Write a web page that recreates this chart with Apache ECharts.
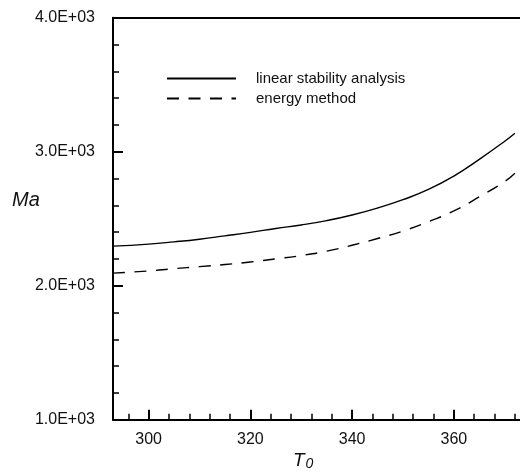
<!DOCTYPE html>
<html>
<head>
<meta charset="utf-8">
<script src="https://cdn.jsdelivr.net/npm/echarts@6/dist/echarts.min.js"></script>
<style>
html,body{margin:0;padding:0;background:#fff;}
#chart{width:520px;height:474px;}
</style>
</head>
<body>
<div id="chart"></div>
<script>
// Data
const seriesNames = ['linear stability analysis', 'energy method'];
const temperature = [293, 300, 305, 310, 315, 320, 325, 330, 335, 340, 345, 350, 355, 360, 365, 370, 372];
const maLinear = [2295, 2310, 2327, 2347, 2372, 2398, 2427, 2453, 2486, 2528, 2580, 2642, 2718, 2818, 2943, 3078, 3138];
const maEnergy = [2094, 2110, 2127, 2142, 2158, 2177, 2200, 2225, 2258, 2302, 2352, 2408, 2478, 2558, 2663, 2778, 2840];
const xMajorTicks = [300, 320, 340, 360];
const xMinorTicks = [296, 304, 308, 312, 316, 324, 328, 332, 336, 344, 348, 352, 356, 364, 368, 372];
const yTickValues = [1000, 2000, 3000, 4000];
const yTickLabels = ['1.0E+03', '2.0E+03', '3.0E+03', '4.0E+03'];

const FONT = "'Liberation Sans', Arial, Helvetica, sans-serif";
const chart = echarts.init(document.getElementById('chart'), null, {renderer: 'canvas'});

const lineData = (ys) => temperature.map((t, i) => [t, ys[i]]);

chart.setOption({
  animation: false,
  backgroundColor: '#fff',
  textStyle: {fontFamily: FONT},
  grid: {left: 113, top: 17.7, right: -5.4, bottom: 54.3},
  legend: {
    orient: 'vertical',
    left: 161,
    top: 66,
    itemWidth: 69,
    itemHeight: 14,
    itemGap: 5,
    itemStyle: {opacity: 0},
    textStyle: {fontFamily: FONT, fontSize: 15, color: '#111', padding: [0, 0, 0, 15]},
    data: seriesNames
  },
  xAxis: [
    {
      type: 'value', min: 293, max: 373,
      axisLine: {show: true, onZero: false, lineStyle: {color: '#000', width: 2}},
      axisTick: {show: true, inside: true, length: 10, customValues: xMajorTicks, lineStyle: {color: '#000', width: 2}},
      axisLabel: {show: true, customValues: xMajorTicks, margin: 12, fontSize: 16, color: '#111', fontFamily: FONT},
      splitLine: {show: false}
    },
    {
      type: 'value', min: 293, max: 373, position: 'bottom',
      axisLine: {show: false},
      axisTick: {show: true, inside: true, length: 6, customValues: xMinorTicks, lineStyle: {color: '#000', width: 1.5}},
      axisLabel: {show: false},
      splitLine: {show: false}
    },
    {
      type: 'value', min: 293, max: 373, position: 'top',
      axisLine: {show: true, onZero: false, lineStyle: {color: '#000', width: 2}},
      axisTick: {show: false},
      axisLabel: {show: false},
      splitLine: {show: false}
    }
  ],
  yAxis: {
    type: 'value', min: 1000, max: 4000, interval: 1000,
    axisLine: {show: true, onZero: false, lineStyle: {color: '#000', width: 2}},
    axisTick: {show: true, inside: true, length: 10, lineStyle: {color: '#000', width: 2}},
    minorTick: {show: true, splitNumber: 5, length: 6, lineStyle: {color: '#000', width: 1.5}},
    axisLabel: {
      margin: 18, fontSize: 16, color: '#111', fontFamily: FONT,
      formatter: (v) => { const i = yTickValues.indexOf(v); return i >= 0 ? yTickLabels[i] : ''; }
    },
    splitLine: {show: false}
  },
  graphic: [
    {
      type: 'text', left: 12, top: 190,
      style: {text: 'Ma', font: 'italic 20px ' + FONT, fill: '#111'}
    },
    {
      type: 'text', left: 293, top: 451,
      style: {
        text: '{t|T}{s|0}',
        rich: {
          t: {font: 'italic 19px ' + FONT, fill: '#111'},
          s: {font: 'italic 14px ' + FONT, fill: '#111', verticalAlign: 'bottom', padding: [8, 0, 0, 1]}
        }
      }
    }
  ],
  series: [
    {
      name: seriesNames[0], type: 'line', smooth: true, showSymbol: false, symbol: 'none',
      xAxisIndex: 0, data: lineData(maLinear),
      lineStyle: {color: '#000', width: 1.4, type: 'solid'},
      itemStyle: {color: '#000'}
    },
    {
      name: seriesNames[1], type: 'line', smooth: true, showSymbol: false, symbol: 'none',
      xAxisIndex: 0, data: lineData(maEnergy),
      lineStyle: {color: '#000', width: 1.4, type: [12, 9.5]},
      itemStyle: {color: '#000'}
    }
  ]
});
</script>
</body>
</html>
